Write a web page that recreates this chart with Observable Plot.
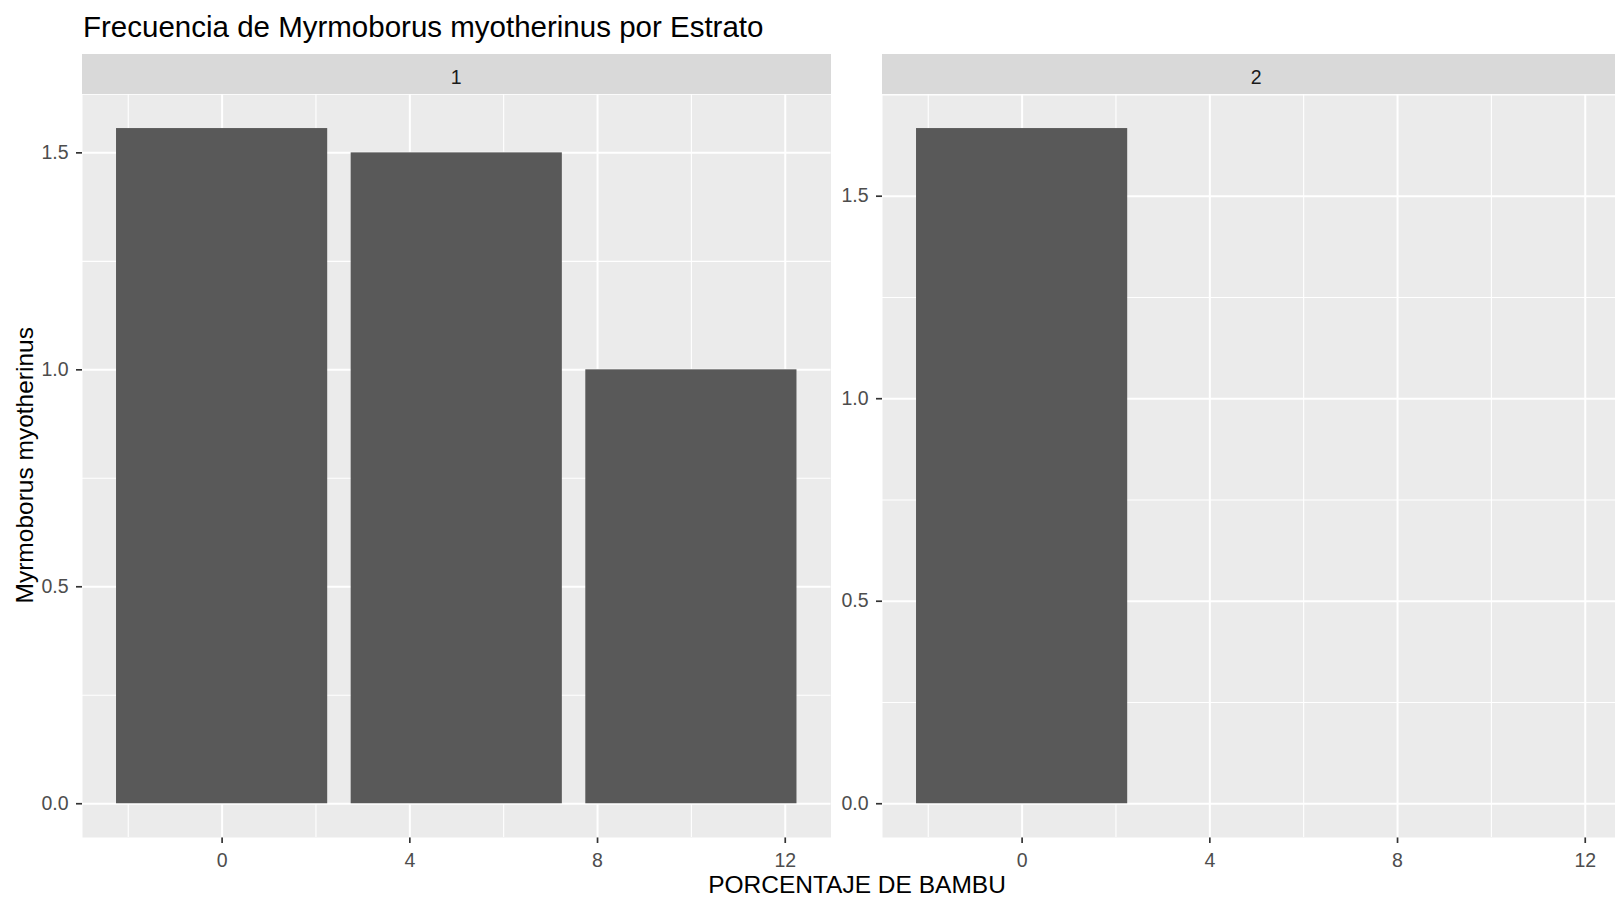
<!DOCTYPE html>
<html>
<head>
<meta charset="utf-8">
<script src="https://cdn.jsdelivr.net/npm/d3@7"></script>
<script src="https://cdn.jsdelivr.net/npm/@observablehq/plot@0.6"></script>
<style>
  html, body { margin: 0; padding: 0; background: white; }
  #root { position: relative; width: 1615px; height: 900px; overflow: hidden; background: white;
          font-family: "Liberation Sans", Arial, sans-serif; }
  .abs { position: absolute; white-space: nowrap; }
  .strip { position: absolute; background: #D9D9D9; color: #1A1A1A; font-size: 19.5px;
           line-height: 40px; height: 37px; padding-top: 3px; text-align: center; }
  .chart { position: absolute; top: 0; }
  .chart svg { overflow: visible; max-width: none !important; }
  #root svg [aria-label="x-axis"] line, #root svg [aria-label="y-axis"] line,
  #root svg [aria-label$="axis tick"] path { stroke: #333333; stroke-width: 1.7px; }
</style>
</head>
<body>
<div id="root">
  <div class="abs" style="left:83px;top:11.7px;font-size:29.5px;line-height:29.5px;color:#000;">Frecuencia de Myrmoborus myotherinus por Estrato</div>
  <div class="strip" id="strip1"></div>
  <div class="strip" id="strip2"></div>
  <div class="abs" style="left:857px;top:872.6px;font-size:24.5px;line-height:24.5px;color:#000;transform:translateX(-50%);">PORCENTAJE DE BAMBU</div>
  <div class="abs" style="left:-275px;top:453.25px;width:600px;text-align:center;font-size:24.5px;line-height:24.5px;color:#000;transform:rotate(-90deg);">Myrmoborus myotherinus</div>
  <div class="chart" id="c1" style="left:0px;width:845px;"></div>
  <div class="chart" id="c2" style="left:830px;width:830px;"></div>
</div>
<script>
// ---- data ----
const estratos = ["1", "2"];
const bambu1 = [0, 5, 10];
const freq1 = [1.556, 1.5, 1.0];
const bambu2 = [0];
const freq2 = [1.667];
const xTicks = [0, 4, 8, 12];
const yTicks = [0, 0.5, 1.0, 1.5];

// ---- derived (ggplot-like defaults) ----
const allB = bambu1.concat(bambu2);
const sortedB = Array.from(new Set(allB)).sort((a, b) => a - b);
const resolution = d3.min(d3.pairs(sortedB), ([a, b]) => b - a);
const barW = 0.9 * resolution;
const xlo = d3.min(allB) - barW / 2, xhi = d3.max(allB) + barW / 2;
const xpad = 0.05 * (xhi - xlo);
const xDomain = [xlo - xpad, xhi + xpad];

function minors(ticks, dom) {
  const step = ticks[1] - ticks[0];
  const out = [];
  for (const t of [ticks[0] - step, ...ticks]) {
    const m = t + step / 2;
    if (m > dom[0] && m < dom[1] && !ticks.includes(m)) out.push(m);
  }
  return out;
}

const panelLeft = [82, 882];
const panelW = 748.5;
const svgLeft = [0, 830];
const panelTop = 94.3, panelBottom = 837;

function panel(bambu, freq, idx) {
  const data = bambu.map((b, i) => ({bambu: b, freq: freq[i]}));
  const ymax = d3.max(freq);
  const yDomain = [-0.05 * ymax, 1.05 * ymax];
  const width = idx === 0 ? 845 : 830;
  const mL = panelLeft[idx] - svgLeft[idx];
  const mR = width - mL - panelW;
  return Plot.plot({
    width, height: 900,
    marginLeft: mL, marginRight: mR, marginTop: panelTop, marginBottom: 900 - panelBottom,
    style: {background: "transparent", fontFamily: "'Liberation Sans', Arial, sans-serif",
            fontSize: "19.5px", color: "#4D4D4D", overflow: "visible"},
    x: {domain: xDomain, ticks: xTicks, tickSize: 6, tickPadding: 9.5, label: null, tickFormat: d3.format("d")},
    y: {domain: yDomain, ticks: yTicks, tickSize: 6, tickPadding: 8, label: null, tickFormat: d3.format(".1f")},
    marks: [
      Plot.frame({fill: "#EBEBEB", stroke: null}),
      Plot.ruleX(minors(xTicks, xDomain), {stroke: "white", strokeWidth: 1.1}),
      Plot.ruleY(minors(yTicks, yDomain), {stroke: "white", strokeWidth: 1.1}),
      Plot.ruleX(xTicks, {stroke: "white", strokeWidth: 2}),
      Plot.ruleY(yTicks, {stroke: "white", strokeWidth: 2}),
      Plot.rectY(data, {x1: d => d.bambu - barW / 2, x2: d => d.bambu + barW / 2, y: "freq", fill: "#595959"})
    ]
  });
}

document.getElementById("c1").appendChild(panel(bambu1, freq1, 0));
document.getElementById("c2").appendChild(panel(bambu2, freq2, 1));

estratos.forEach((s, i) => {
  const el = document.getElementById("strip" + (i + 1));
  el.textContent = s;
  el.style.left = panelLeft[i] + "px";
  el.style.top = "54.3px";
  el.style.width = panelW + "px";
});
</script>
</body>
</html>
